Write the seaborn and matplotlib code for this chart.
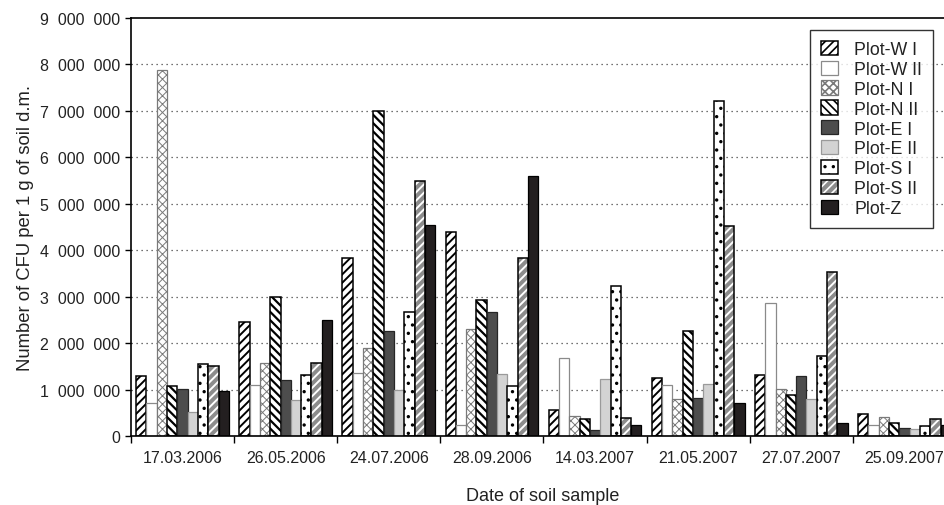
import numpy as np
import pandas as pd
import matplotlib
matplotlib.use("Agg")
import matplotlib.pyplot as plt
import seaborn as sns
from matplotlib.patches import Patch, Rectangle
from matplotlib.ticker import FuncFormatter, FixedLocator

# ------------------------------
# Data
# ------------------------------
dates = ["17.03.2006", "26.05.2006", "24.07.2006", "28.09.2006",
         "14.03.2007", "21.05.2007", "27.07.2007", "25.09.2007"]
plots = ["Plot-W I", "Plot-W II", "Plot-N I", "Plot-N II", "Plot-E I",
         "Plot-E II", "Plot-S I", "Plot-S II", "Plot-Z"]

w1 = [1290000, 2450000, 3840000, 4390000, 570000, 1250000, 1310000, 480000]
w2 = [710000, 1090000, 1360000, 240000, 1680000, 1090000, 2870000, 230000]
n1 = [7870000, 1570000, 1890000, 2300000, 430000, 800000, 1020000, 400000]
n2 = [1070000, 3000000, 6990000, 2930000, 370000, 2270000, 880000, 290000]
e1 = [1020000, 1200000, 2270000, 2680000, 120000, 820000, 1300000, 170000]
e2 = [510000, 770000, 990000, 1330000, 1230000, 1110000, 790000, 140000]
s1 = [1540000, 1310000, 2680000, 1070000, 3230000, 7210000, 1720000, 210000]
s2 = [1500000, 1570000, 5490000, 3840000, 390000, 4520000, 3540000, 370000]
z = [960000, 2500000, 4550000, 5590000, 230000, 710000, 290000, 230000]

series = [w1, w2, n1, n2, e1, e2, s1, s2, z]

df = pd.DataFrame({
    "date": np.tile(dates, len(plots)),
    "plot": np.repeat(plots, len(dates)),
    "cfu": np.concatenate(series),
})

# styles per plot: face, edge, hatch, hatch colour, line width, hatch width
styles = [
    dict(fc="white", ec="black", hatch="////", hc="black", lw=1.1, hw=1.4),
    dict(fc="white", ec="#8a8a8a", hatch="", hc="#8a8a8a", lw=0.9, hw=1.0),
    dict(fc="white", ec="#7a7a7a", hatch="xxxx", hc="#7a7a7a", lw=0.9, hw=0.7),
    dict(fc="white", ec="black", hatch="\\\\\\\\", hc="black", lw=1.1, hw=1.6),
    dict(fc="#4d4d4d", ec="#262626", hatch="", hc="#262626", lw=0.9, hw=1.0),
    dict(fc="#d3d3d3", ec="#9a9a9a", hatch="", hc="#9a9a9a", lw=0.9, hw=1.0),
    dict(fc="white", ec="black", hatch="..", hc="black", lw=1.1, hw=1.2),
    dict(fc="#8c8c8c", ec="black", hatch="////", hc="white", lw=1.1, hw=1.4),
    dict(fc="#231f20", ec="black", hatch="", hc="black", lw=0.9, hw=1.0),
]

sns.set_theme(style="white")
plt.rcParams["font.family"] = ["Liberation Sans", "DejaVu Sans"]
plt.rcParams["hatch.linewidth"] = 1.2

fig = plt.figure(figsize=(9.45, 5.06), dpi=100)
ax = fig.add_axes([131 / 945, 69 / 506, 825 / 945, 418 / 506])

sns.barplot(data=df, x="date", y="cfu", hue="plot", hue_order=plots,
            order=dates, palette=["white"] * len(plots), saturation=1,
            width=0.9, dodge=True, legend=False, errorbar=None, ax=ax)


def style_bar(p, st):
    if st["hc"] != st["ec"]:
        # hatch in its own colour, then an outline on top
        p.set_facecolor(st["fc"])
        p.set_edgecolor(st["hc"])
        p.set_linewidth(0)
        p.set_hatch(st["hatch"])
        if hasattr(p, "set_hatch_linewidth"):
            p.set_hatch_linewidth(st["hw"])
        return Rectangle(p.get_xy(), p.get_width(), p.get_height(),
                         fill=False, edgecolor=st["ec"], linewidth=st["lw"],
                         zorder=p.get_zorder() + 0.1)
    p.set_facecolor(st["fc"])
    p.set_edgecolor(st["ec"])
    p.set_linewidth(st["lw"])
    p.set_hatch(st["hatch"])
    if hasattr(p, "set_hatch_linewidth"):
        p.set_hatch_linewidth(st["hw"])
    return None


for cont, st in zip(ax.containers, styles):
    for p in cont.patches:
        outline = style_bar(p, st)
        if outline is not None:
            ax.add_patch(outline)

# axes
ax.set_ylim(0, 9000000)
ax.set_xlim(-0.5, len(dates) - 0.5)
ax.yaxis.set_major_locator(FixedLocator(np.arange(0, 9000001, 1000000)))
ax.yaxis.set_major_formatter(FuncFormatter(lambda v, _: f"{int(v):,}".replace(",", "  ")))
ax.set_xticks(range(len(dates)))
ax.set_xticklabels(dates)
ax.xaxis.set_minor_locator(FixedLocator(np.arange(-0.5, len(dates), 1)))
ax.tick_params(axis="x", which="major", length=0, labelsize=11.5, pad=10, colors="#222222")
ax.tick_params(axis="x", which="minor", length=5, width=1, color="black", direction="out", bottom=True)
ax.tick_params(axis="y", length=4, width=1, color="black", direction="out", left=True,
               labelsize=11.5, pad=4, labelcolor="#222222")

# dotted gridlines at each million
for v in range(1000000, 9000000, 1000000):
    ax.axhline(v, color="#444444", linestyle=(0, (1, 3)), linewidth=0.9, zorder=0)

for s in ["left", "bottom", "top", "right"]:
    ax.spines[s].set_color("black")
    ax.spines[s].set_linewidth(1.2)

ax.set_xlabel("Date of soil sample", fontsize=13, color="#222222")
ax.set_ylabel("Number of CFU per 1 g of soil d.m.", fontsize=13.3, color="#222222")
ax.xaxis.set_label_coords((543 - 131) / 825, -0.122)
ax.yaxis.set_label_coords((34 - 131) / 825, 0.5)

# legend
handles = []
for st in styles:
    if st["hc"] != st["ec"]:
        h1 = Patch(facecolor=st["fc"], edgecolor=st["hc"], hatch=st["hatch"], linewidth=0)
        h2 = Patch(facecolor="none", edgecolor=st["ec"], linewidth=st["lw"])
        handles.append((h1, h2))
    else:
        handles.append(Patch(facecolor=st["fc"], edgecolor=st["ec"], hatch=st["hatch"],
                             linewidth=st["lw"]))

leg = fig.legend(handles, plots, loc="upper right", bbox_to_anchor=(933 / 945, 1 - 31 / 506),
                 fontsize=12.8, frameon=True, fancybox=False, edgecolor="black",
                 handlelength=0.95, handleheight=0.85, handletextpad=0.95,
                 labelspacing=0.15, borderpad=0.6, borderaxespad=0)
leg.get_frame().set_linewidth(1.0)
for t in leg.get_texts():
    t.set_color("#222222")

fig.savefig("out.png", dpi=100)
